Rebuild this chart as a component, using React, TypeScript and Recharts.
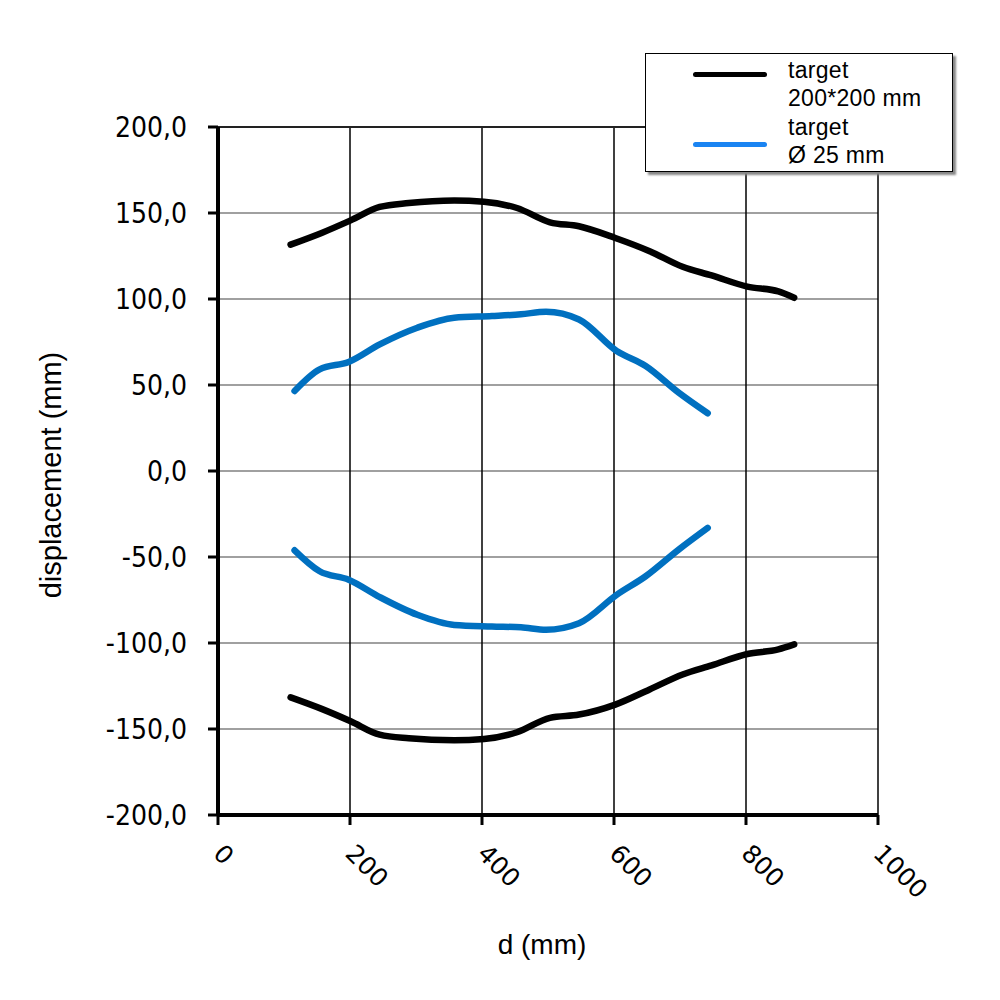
import React from "react";
import {
  LineChart,
  Line,
  XAxis,
  YAxis,
  CartesianGrid,
  ReferenceLine,
} from "recharts";

// distance along d (mm) and displacement (mm)
const dSquare = [110, 157, 201, 245, 289, 358, 403, 453, 503, 547, 602, 654, 704, 748, 802, 849, 873];
const squareUpper = [131.6, 138.4, 145.7, 153.5, 155.8, 157.3, 156.6, 152.9, 144.6, 142.3, 135.5, 127.8, 118.7, 113.7, 107.2, 104.4, 100.7];
const squareLower = [-131.6, -138.3, -145.5, -153.3, -155.4, -156.6, -155.8, -151.9, -143.5, -141.6, -135.8, -127.0, -118.3, -113.0, -106.4, -103.7, -100.8];

const dRound = [116, 154, 198, 245, 302, 358, 415, 459, 497, 547, 604, 648, 698, 742];
const roundUpper = [46.5, 59.1, 63.4, 73.6, 83.3, 89.1, 90.1, 91.1, 92.6, 88.1, 69.8, 61.1, 45.6, 33.6];
const roundLower = [-46.1, -58.3, -63.2, -73.3, -83.6, -89.5, -90.4, -90.9, -92.3, -88.5, -72.0, -61.2, -45.7, -33.1];

const xTicks = [0, 200, 400, 600, 800, 1000];
const yTicks = [-200, -150, -100, -50, 0, 50, 100, 150, 200];

const xTitle = "d (mm)";
const yTitle = "displacement (mm)";

const legendItems = [
  { lines: ["target", "200*200 mm"], color: "#000000" },
  { lines: ["target", "\u00d8 25 mm"], color: "#1a84f2" },
];

const BLACK = "#000000";
const BLUE = "#0070c0";
const SANS = "'Liberation Sans', Arial, sans-serif";

const toPoints = (xs: number[], ys: number[]) =>
  xs.map((d, i) => ({ d, v: ys[i] }));

const fmt = (v: number) => v.toFixed(1).replace(".", ",");

function XTick(props: any) {
  const { x, payload } = props;
  const ax = x - 6;
  const ay = 855;
  return (
    <text
      x={ax}
      y={ay}
      transform={`rotate(45 ${ax} ${ay})`}
      textAnchor="start"
      fontSize={25}
      fontFamily="'DejaVu Sans', sans-serif"
      fill="#000"
    >
      {payload.value}
    </text>
  );
}

function Legend() {
  return (
    <div
      style={{
        position: "absolute",
        left: 645,
        top: 53,
        width: 306,
        height: 117,
        background: "#fff",
        border: "1.5px solid #000",
        boxShadow: "3px 3px 2px #888",
        fontFamily: SANS,
        fontSize: 23,
        letterSpacing: 0.3,
        color: "#000",
      }}
    >
      {legendItems.map((item, i) => (
        <div
          key={i}
          style={{ position: "absolute", left: 0, top: i * 57, width: 306, height: 57 }}
        >
          <div
            style={{
              position: "absolute",
              left: 47,
              top: i === 0 ? 18 : 31,
              width: 74,
              height: 5,
              borderRadius: 3,
              background: item.color,
            }}
          />
          <div style={{ position: "absolute", left: 142, top: 2, lineHeight: "28px" }}>
            {item.lines.map((t, j) => (
              <div key={j}>{t}</div>
            ))}
          </div>
        </div>
      ))}
    </div>
  );
}

function AxisTitles() {
  return (
    <svg
      width={1000}
      height={1000}
      style={{ position: "absolute", left: 0, top: 0, pointerEvents: "none" }}
    >
      <text x={542} y={954} textAnchor="middle" fontSize={28} fontFamily={SANS} fill="#000">
        {xTitle}
      </text>
      <text
        x={61}
        y={475}
        transform="rotate(-90 61 475)"
        textAnchor="middle"
        fontSize={29}
        fontFamily={SANS}
        fill="#000"
      >
        {yTitle}
      </text>
    </svg>
  );
}

export default function App() {
  return (
    <div style={{ position: "absolute", left: 0, top: 0, width: 1000, height: 1000, background: "#fff" }}>
      <LineChart
        width={1000}
        height={1000}
        margin={{ top: 127, right: 122, bottom: 0, left: 0 }}
      >
        <CartesianGrid vertical={false} stroke="#a0a0a0" strokeWidth={2} />
        <CartesianGrid horizontal={false} stroke="#000" strokeWidth={1.5} />
        <ReferenceLine y={200} stroke="#222" strokeWidth={2} />
        <XAxis
          type="number"
          dataKey="d"
          domain={[0, 1000]}
          ticks={xTicks}
          height={185}
          axisLine={{ stroke: "#000", strokeWidth: 4 }}
          tickLine={{ stroke: "#000", strokeWidth: 3 }}
          tickSize={10}
          tick={<XTick />}
        />
        <YAxis
          type="number"
          domain={[-200, 200]}
          ticks={yTicks}
          width={218}
          axisLine={{ stroke: "#000", strokeWidth: 4 }}
          tickLine={{ stroke: "#000", strokeWidth: 3 }}
          tickSize={10}
          tickMargin={21}
          tickFormatter={fmt}
          tick={{
            fontSize: 28,
            fill: "#000",
            fontFamily: "'DejaVu Sans Condensed', 'DejaVu Sans', sans-serif",
          }}
        />
        <Line data={toPoints(dSquare, squareUpper)} dataKey="v" type="monotone" stroke={BLACK} strokeWidth={6.5} strokeLinecap="round" dot={false} isAnimationActive={false} />
        <Line data={toPoints(dSquare, squareLower)} dataKey="v" type="monotone" stroke={BLACK} strokeWidth={6.5} strokeLinecap="round" dot={false} isAnimationActive={false} />
        <Line data={toPoints(dRound, roundUpper)} dataKey="v" type="monotone" stroke={BLUE} strokeWidth={6.5} strokeLinecap="round" dot={false} isAnimationActive={false} />
        <Line data={toPoints(dRound, roundLower)} dataKey="v" type="monotone" stroke={BLUE} strokeWidth={6.5} strokeLinecap="round" dot={false} isAnimationActive={false} />
      </LineChart>
      <AxisTitles />
      <Legend />
    </div>
  );
}
